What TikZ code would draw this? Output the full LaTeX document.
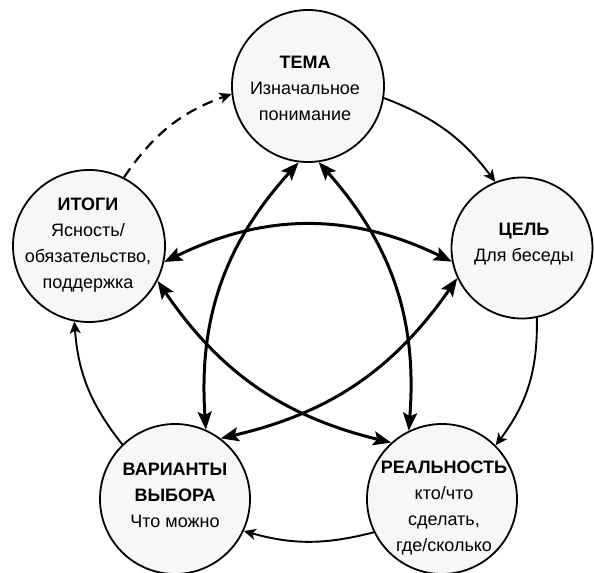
\documentclass[tikz,border=0pt]{standalone}
\usepackage{fontspec}
\setmainfont{Liberation Sans}
\usetikzlibrary{arrows.meta}
\begin{document}
\begin{tikzpicture}[x=1pt,y=-1pt,
  bub/.style={circle, draw, line width=1.8pt, fill=black!3, inner sep=0pt, minimum size=#1},
  txt/.style={align=center, inner sep=0pt, font=\fontsize{18}{26}\selectfont},
  thin/.style={line width=1.9pt, -{Stealth[length=12pt,width=11pt,inset=3pt]}},
  thick/.style={line width=3pt, {Stealth[length=18pt,width=14pt,inset=3.5pt]}-{Stealth[length=18pt,width=14pt,inset=3.5pt]}},
  dsh/.style={thin, line width=2.2pt, dash pattern=on 11pt off 7pt}
]
\useasboundingbox (0,0) rectangle (595,573);
\node[bub=152pt] (tema) at (308,86) {};
\node[bub=141pt] (cel) at (522,248) {};
\node[bub=152pt] (itogi) at (89,246) {};
\node[bub=150pt] (var) at (175,499) {};
\node[bub=150pt] (real) at (442,499) {};

\node[txt] (tema-t) at (305,88) {\textbf{ТЕМА}\\Изначальное\\понимание};
\node[txt] (cel-t) at (524,244) {\textbf{ЦЕЛЬ}\\Для беседы};
\node[txt] (itogi-t) at (88,245) {\textbf{ИТОГИ}\\Ясность/\\обязательство,\\поддержка};
\node[txt] (var-t) at (175,495) {\textbf{ВАРИАНТЫ}\\\textbf{ВЫБОРА}\\Что можно};
\node[txt] (real-t) at (444,508) {\textbf{РЕАЛЬНОСТЬ}\\кто/что\\сделать,\\где/сколько};

% outer cycle
\draw[thin] (tema.-9) to[bend left=16] (cel.112);
\draw[thin] (cel.-78) to[bend left=19] (real.45);
\draw[thin] (real.206) to[bend left=15] (var.-25);
\draw[thin] (var.134) to[bend left=17] (itogi.-101);
\draw[dsh] (itogi.63) to[bend left=18] (tema.186);

% star
\draw[thick] (itogi.-12) to[bend left=26] (cel.191);
\draw[thick] (itogi.-27) to[bend right=21] (real.132);
\draw[thick] (tema.-97) to[bend right=23] (var.66);
\draw[thick] (tema.-82) to[bend left=23] (real.116);
\draw[thick] (cel.205) to[bend left=21] (var.53);
\end{tikzpicture}
\end{document}
